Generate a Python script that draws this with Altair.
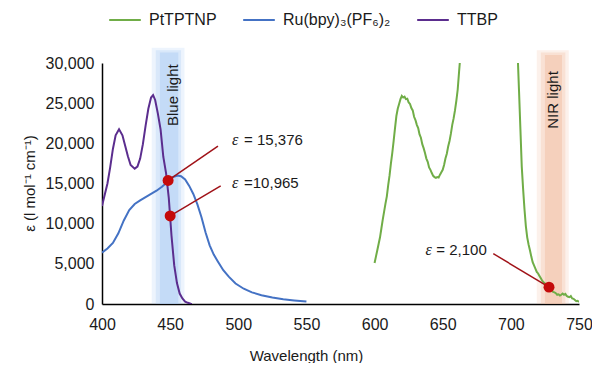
import altair as alt
import pandas as pd

# ---------------- data ----------------
series_names = ["PtTPTNP", "Ru(bpy)₃(PF₆)₂", "TTBP"]
series_colors = ["#70ad47", "#4472c4", "#5b2d8e"]

ttbp_x = [400, 402, 404, 406, 408, 410, 412.5, 415, 417, 419, 421, 424, 426, 428, 430,
          432, 434, 436, 437.5, 439, 441, 443, 445, 447, 449, 451, 453, 455, 457, 459,
          461, 463, 465, 466]
ttbp_y = [12200, 13600, 15000, 17000, 19300, 21000, 21750, 21000, 19700, 18400, 17300,
          16850, 17100, 18100, 19900, 22200, 24300, 25700, 26000, 25400, 23700, 21700,
          18300, 16300, 13200, 8500, 4800, 2600, 1300, 700, 300, 150, 30, 0]

ru_x = [400, 404, 408, 412, 416, 420, 424, 428, 432, 436, 440, 444, 448, 452, 455.5, 458,
        461, 464, 467, 470, 473, 476, 479, 482, 485, 489, 493, 498, 504, 510, 517, 525,
        533, 541, 550]
ru_y = [6400, 6900, 7600, 8800, 10400, 11700, 12450, 12900, 13300, 13700, 14100, 14600,
        15200, 15800, 16000, 15900, 15500, 14700, 13700, 12400, 10800, 8900, 7300, 6150,
        5300, 4200, 3400, 2550, 1900, 1450, 1100, 800, 600, 450, 300]

pt_x = [600, 601, 602, 603, 604, 605, 606, 607, 608, 609, 610, 611, 612, 613, 614, 615,
        616, 617, 618, 619, 620, 621, 622, 623, 624, 625, 626, 627, 628, 629, 630, 631,
        632, 633, 634, 635, 636, 637, 638, 639, 640, 641, 642, 643, 644, 645, 646, 647,
        648, 649, 650, 651, 652, 653, 654, 655, 656, 657, 658, 659, 660, 661, 662, 663,
        666, 670, 680, 690, 698, 703, 705,
        706, 707, 708, 709, 710, 711, 712, 713, 714, 715, 716, 717, 718, 719, 720, 721,
        722, 723, 724, 725, 726, 727, 728, 729, 730, 731, 732, 733, 734, 735, 736, 737,
        738, 739, 740, 741, 742, 743, 744, 745, 746, 747, 748, 749, 750]
pt_y = [5100, 5900, 6700, 7500, 8300, 9400, 10500, 11500, 12500, 13400, 14800, 16000,
        17500, 18800, 20300, 21900, 23400, 24300, 24900, 25500, 25900, 25700, 25800,
        25500, 25550, 25100, 24900, 24400, 24100, 23300, 22900, 22300, 21900, 21100,
        20700, 19900, 19400, 18800, 18100, 17700, 17000, 16700, 16300, 15950, 15800,
        15700, 15800, 15750, 16100, 16400, 16700, 17300, 18100, 18700, 19600, 20300,
        21200, 22300, 23100, 24100, 25300, 26700, 28900, 31000,
        37000, 45000, 52000, 50000, 42000, 35000, 31000,
        26500, 21800, 17100, 14300, 11800, 9700, 8300, 7400, 6700, 5900, 5200, 4800,
        4400, 4000, 3800, 3500, 3200, 2900, 2700, 2550, 2400, 2300, 2150, 1900, 1750,
        1500, 1450, 1350, 1150, 1200, 1050, 1150, 1300, 1150, 1250, 1000, 900, 850,
        1000, 700, 650, 500, 350, 400, 250]

x_ticks = [400, 450, 500, 550, 600, 650, 700, 750]
y_ticks = [0, 5000, 10000, 15000, 20000, 25000, 30000]

# glow bands (three nested layers each)
blue_left = [436.5, 439.5, 442.5]
blue_right = [460.5, 458.0, 456.0]
blue_top = [31900, 31600, 31300]
nir_left = [719.0, 722.0, 725.0]
nir_right = [742.5, 740.0, 737.5]
nir_top = [31600, 31300, 31000]
band_bottom = [0, 0, 0]
band_opacity = [0.2, 0.28, 0.4]

band_label = ["Blue light", "NIR light"]
band_label_x = [452.1, 730.9]
band_label_y = [26000, 25400]

# highlighted points and callouts
mark_x = [448.5, 450, 728]
mark_y = [15376, 10965, 2100]
call_x = [485.1, 487.1, 687.1]
call_y = [19647, 14694, 6262]
call_text = ["ε = 15,376", "ε =10,965", "ε = 2,100"]
text_x = [495.4, 495.4, 682.3]
text_y = [20395, 15031, 6674]

# ---------------- tables ----------------
lines_df = pd.concat([
    pd.DataFrame({"x": pt_x, "y": pt_y, "s": series_names[0]}),
    pd.DataFrame({"x": ru_x, "y": ru_y, "s": series_names[1]}),
    pd.DataFrame({"x": ttbp_x, "y": ttbp_y, "s": series_names[2]}),
], ignore_index=True)

blue_df = pd.DataFrame({"x": blue_left, "x2": blue_right, "y": band_bottom,
                        "y2": blue_top, "op": band_opacity})
nir_df = pd.DataFrame({"x": nir_left, "x2": nir_right, "y": band_bottom,
                       "y2": nir_top, "op": band_opacity})

band_text_df = pd.DataFrame({"x": band_label_x, "y": band_label_y, "t": band_label})
marks_df = pd.DataFrame({"x": mark_x, "y": mark_y, "x2": call_x, "y2": call_y})
text_df = pd.DataFrame({"x": text_x, "y": text_y,
                        "eps": [t[0] for t in call_text],
                        "rest": [t[1:].strip() for t in call_text]})

xs = alt.Scale(domain=[400, 750], nice=False, zero=False, padding=0)
ys = alt.Scale(domain=[0, 30000], nice=False, zero=False, padding=0)

FONT = "Liberation Sans"
TXT = "#1a1a1a"
FS = 15

x_axis = alt.Axis(values=x_ticks, ticks=False, tickSize=0, grid=False, labelPadding=12,
                  labelFlush=False, domainColor="black", domainWidth=1.5,
                  labelFontSize=16, labelColor=TXT, title="Wavelength (nm)",
                  titleFontSize=15, titleFontWeight="normal", titleColor=TXT,
                  titleX=204, titleY=51, titleBaseline="middle", titleAlign="center")
y_axis = alt.Axis(values=y_ticks, labelExpr="format(datum.value, ',')", ticks=False,
                  tickSize=0, grid=False, labelFlush=False,
                  labelPadding=8, domainColor="black", domainWidth=1.5,
                  labelFontSize=16, labelColor=TXT, title="ε (l mol⁻¹ cm⁻¹)",
                  titleFontSize=15, titleFontWeight="normal", titleColor=TXT,
                  titleX=-73, titleY=120, titleAngle=270, titleBaseline="middle",
                  titleAlign="center")

X = lambda f="x": alt.X(f"{f}:Q", scale=xs, axis=x_axis)
Y = lambda f="y": alt.Y(f"{f}:Q", scale=ys, axis=y_axis)


def band(df, col):
    return alt.Chart(df).mark_rect(color=col).encode(
        x=X(), x2="x2:Q", y=Y(), y2="y2:Q",
        opacity=alt.Opacity("op:Q", scale=None, legend=None),
    )


blue_band = band(blue_df, "#a6c9f3")
nir_band = band(nir_df, "#f0b799")

lines = alt.Chart(lines_df).mark_line(strokeWidth=2, clip=True).encode(
    x=X(), y=Y(),
    color=alt.Color("s:N", sort=series_names,
                    scale=alt.Scale(domain=series_names, range=series_colors),
                    legend=alt.Legend(title=None, orient="none", legendX=6, legendY=-60,
                                      direction="horizontal", symbolType="stroke",
                                      symbolSize=1000, symbolStrokeWidth=2,
                                      labelFontSize=16, labelColor=TXT, labelOffset=7,
                                      columnPadding=22, padding=0)),
    order="x:Q",
)

band_text = alt.Chart(band_text_df).mark_text(angle=270, align="center", baseline="middle",
                                              fontSize=FS, color=TXT).encode(
    x=X(), y=Y(), text="t:N")

callouts = alt.Chart(marks_df).mark_rule(color="#a01218", strokeWidth=1.5).encode(
    x=X(), y=Y(), x2="x2:Q", y2="y2:Q")

points = alt.Chart(marks_df).mark_point(filled=True, opacity=1, size=120,
                                        color="#c40a0a").encode(x=X(), y=Y())

left_df = text_df.iloc[:2]
right_df = text_df.iloc[2:]

eps_left = alt.Chart(left_df).mark_text(align="left", baseline="middle", fontSize=FS + 1,
                                        font="Liberation Serif", fontStyle="italic",
                                        color=TXT).encode(x=X(), y=Y(), text="eps:N")
rest_left = alt.Chart(left_df).mark_text(align="left", baseline="middle", fontSize=FS,
                                         dx=12, color=TXT).encode(x=X(), y=Y(), text="rest:N")
rest_right = alt.Chart(right_df).mark_text(align="right", baseline="middle", fontSize=FS,
                                           color=TXT).encode(x=X(), y=Y(), text="rest:N")
eps_right = alt.Chart(right_df).mark_text(align="right", baseline="middle",
                                          fontSize=FS + 1, font="Liberation Serif",
                                          fontStyle="italic", dx=-55,
                                          color=TXT).encode(x=X(), y=Y(), text="eps:N")

chart = alt.layer(blue_band, nir_band, lines, band_text, callouts, points,
                  eps_left, rest_left, rest_right, eps_right).properties(
    width=477, height=241,
    autosize=alt.AutoSizeParams(type="none"),
    padding={"left": 94, "top": 55, "right": 13, "bottom": 59},
).configure(font=FONT).configure_view(stroke=None)

chart.save("out.html", embed_options={"renderer": "svg", "actions": False})
